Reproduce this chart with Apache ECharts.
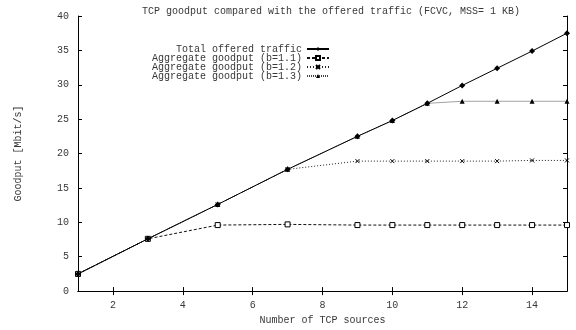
<!DOCTYPE html>
<html><head><meta charset="utf-8">
<script src="https://cdn.jsdelivr.net/npm/echarts@6/dist/echarts.min.js"></script>
<style>html,body{margin:0;padding:0;background:#fff}#c{width:576px;height:330px}</style>
</head><body><div id="c"></div>
<script>
const sources = [1, 3, 5, 7, 9, 10, 11, 12, 13, 14, 15];
const offered = [2.5, 7.6, 12.6, 17.7, 22.5, 24.8, 27.3, 29.9, 32.4, 34.9, 37.5];
const goodB11 = [2.5, 7.6, 9.6, 9.7, 9.6, 9.6, 9.6, 9.6, 9.6, 9.6, 9.6];
const goodB12 = [2.5, 7.6, 12.6, 17.7, 18.9, 18.9, 18.9, 18.9, 18.9, 19.0, 19.0];
const goodB13 = [2.5, 7.6, 12.6, 17.7, 22.5, 24.8, 27.3, 27.6, 27.6, 27.6, 27.6];
const xTicks = [2, 4, 6, 8, 10, 12, 14];
const seriesNames = ['Total offered traffic', 'Aggregate goodput (b=1.1)', 'Aggregate goodput (b=1.2)', 'Aggregate goodput (b=1.3)'];

const FONT = 'Liberation Mono';
const pair = ys => sources.map((x, i) => [x, ys[i]]);
const txt = {fontFamily: FONT, fontSize: 10, color: '#383838'};

const xBase = {
  type: 'value', min: 1, max: 15,
  axisLine: {show: true, lineStyle: {color: '#000', width: 1}},
  axisTick: {show: true, inside: true, length: 4, customValues: xTicks, lineStyle: {color: '#000'}},
  splitLine: {show: false}
};
const yBase = {
  type: 'value', min: 0, max: 40, interval: 5,
  axisLine: {show: true, lineStyle: {color: '#000', width: 1}},
  axisTick: {show: true, inside: true, length: 4, lineStyle: {color: '#000'}},
  splitLine: {show: false}
};

const chart = echarts.init(document.getElementById('c'), null, {renderer: 'canvas'});
chart.setOption({
  animation: false,
  backgroundColor: '#fff',
  title: {text: 'TCP goodput compared with the offered traffic (FCVC, MSS= 1 KB)', left: 137, top: 1,
    textStyle: {fontFamily: FONT, fontSize: 10, fontWeight: 'normal', color: '#383838'}},
  grid: {left: 78, right: 9, top: 16, bottom: 33, containLabel: false},
  xAxis: [
    Object.assign({}, xBase, {position: 'bottom', name: 'Number of TCP sources', nameLocation: 'middle', nameGap: 22,
      nameTextStyle: txt,
      axisLabel: Object.assign({show: true, customValues: xTicks, margin: 9}, txt)}),
    Object.assign({}, xBase, {position: 'top', axisLabel: {show: false}})
  ],
  yAxis: [
    Object.assign({}, yBase, {position: 'left', name: 'Goodput [Mbit/s]', nameLocation: 'middle', nameGap: 55,
      nameTextStyle: txt,
      axisLabel: Object.assign({show: true, margin: 9}, txt)}),
    Object.assign({}, yBase, {position: 'right', axisLabel: {show: false}})
  ],
  legend: seriesNames.map((n, i) => ({
    data: [n], orient: 'vertical', right: 246, top: 44 + 9 * i, align: 'right',
    itemWidth: 22, itemHeight: 5, itemGap: 0, padding: 0,
    textStyle: Object.assign({}, txt, {padding: [0, 0, 0, 0]})
  })),
  series: [
    {name: seriesNames[0], type: 'line', data: pair(offered), symbol: 'diamond', symbolSize: 6,
      lineStyle: {color: '#000', width: 1, type: 'solid'}, itemStyle: {color: '#000'}, z: 5},
    {name: seriesNames[1], type: 'line', data: pair(goodB11), symbol: 'rect', symbolSize: 5,
      lineStyle: {color: '#111', width: 1, type: [3, 2]}, itemStyle: {color: '#fff', borderColor: '#000', borderWidth: 1}, z: 4},
    {name: seriesNames[2], type: 'line', data: pair(goodB12), symbol: 'path://M0,0L10,10M10,0L0,10', symbolSize: 4,
      lineStyle: {color: '#222', width: 1, type: [1, 2]}, itemStyle: {color: '#000', borderColor: '#000', borderWidth: 1}, z: 3},
    {name: seriesNames[3], type: 'line', data: pair(goodB13), symbol: 'triangle', symbolSize: 5,
      lineStyle: {color: '#444', width: 1, type: [1, 1]}, itemStyle: {color: '#000'}, z: 2}
  ]
});
</script></body></html>
